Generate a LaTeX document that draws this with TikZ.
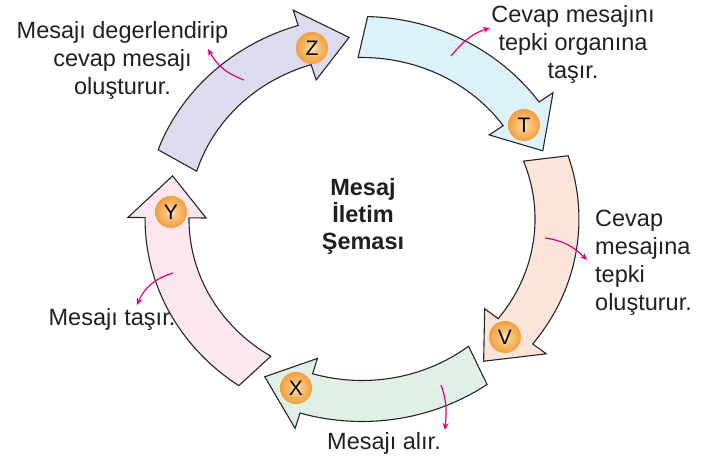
\documentclass[tikz,border=0pt]{standalone}
\usepackage{fontspec}
\setmainfont{Liberation Sans}
\usetikzlibrary{arrows.meta}
\definecolor{zfill}{HTML}{DDDCEE}
\definecolor{tfill}{HTML}{DDF1FA}
\definecolor{vfill}{HTML}{FCE4DA}
\definecolor{xfill}{HTML}{E0F0E4}
\definecolor{yfill}{HTML}{FCE6F0}
\definecolor{pinkline}{HTML}{E6007E}
\definecolor{textgray}{HTML}{231F20}
\definecolor{badgeA}{HTML}{FDEBC4}
\definecolor{badgeB}{HTML}{F9C67E}
\definecolor{badgeC}{HTML}{F1932C}
\definecolor{badgeD}{HTML}{E57E16}
\pgfdeclareradialshading{badgeshade}{\pgfpoint{0bp}{0bp}}{color(0bp)=(badgeA); color(8bp)=(badgeB); color(30bp)=(badgeC); color(50bp)=(badgeD)}
\def\arRo{202.5}
\def\arRi{161.5}
\def\arRh{218.5}
\def\arRhi{145.5}
\def\arRm{182}
\newcommand{\cyclearrow}[3]{%
  \pgfmathsetmacro{\arHB}{#2+13.3}%
  \pgfmathsetmacro{\arSO}{#1-1.4}%
  \pgfmathsetmacro{\arSI}{#1+1.4}%
  \draw[arrowbody,fill=#3] (\arSO:\arRo) -- plot[domain=\arSO:\arHB,samples=40] (\x:\arRo)
    -- (\arHB:\arRh) -- (#2:\arRm) -- (\arHB:\arRhi) -- (\arHB:\arRi)
    -- plot[domain=\arHB:\arSI,samples=40] (\x:\arRi) -- cycle;}
\tikzset{
  arrowbody/.style={draw=black!85, line width=1.1pt, line join=miter},
  badge/.style={circle, minimum size=32pt, inner sep=0pt, shading=badgeshade,
    font=\fontsize{21}{21}\selectfont, text=black},
  lbl/.style={font=\fontsize{23.5}{28.3}\selectfont, text=textgray, inner sep=0pt},
  pinkarrow/.style={draw=pinkline, line width=1.2pt, -{Stealth[length=7pt,width=6pt]}}
}
\begin{document}
\begin{tikzpicture}[x=1pt,y=1pt]
\fill[white] (0,0) rectangle (713,461);
\useasboundingbox (0,0) rectangle (713,461);
\begin{scope}[shift={(362,242)}, xscale=1.0714]
  \cyclearrow{161.4}{93.8}{zfill}
  \cyclearrow{89.9}{22.0}{tfill}
  \cyclearrow{19.6}{-51.4}{vfill}
  \cyclearrow{-53.4}{-119.9}{xfill}
  \cyclearrow{-123.2}{-193.7}{yfill}
\end{scope}
% badges
\node[badge] (bz) at (312,413) {Z};
\node[badge] (bt) at (524,336) {T};
\node[badge] (bv) at (505,124) {V};
\node[badge] (bx) at (296,73) {X};
\node[badge] (by) at (171,249) {Y};
% labels (base anchor = baseline of the last line)
\node[lbl, align=center, anchor=base] (tz) at (122.5,366) {Mesajı degerlendirip\\cevap mesajı\\oluşturur.};
\node[lbl, align=center, anchor=base] (tt) at (573,382) {Cevap mesajını\\tepki organına\\taşır.};
\node[lbl, align=left, anchor=base west] (tv) at (595,150) {Cevap\\mesajına\\tepki\\oluşturur.};
\node[lbl, anchor=base] (ty) at (112,135) {Mesajı taşır.};
\node[lbl, anchor=base] (tx) at (384,11) {Mesajı alır.};
\node[lbl, align=center, anchor=base, font=\fontsize{23.5}{27}\selectfont\bfseries] (tc) at (363,211) {Mesaj\\İletim\\Şeması};
% pink connectors
\coordinate (zs) at (244,381); \coordinate (ze) at (208,412);
\coordinate (ts) at (451,405); \coordinate (te) at (490,433);
\coordinate (vs) at (545,223); \coordinate (ve) at (587,201);
\coordinate (xs) at (441,76);  \coordinate (xe) at (445,31);
\coordinate (ys) at (173,188); \coordinate (ye) at (137,156);
\draw[pinkarrow] (zs) to[out=160,in=-61] (ze);
\draw[pinkarrow] (ts) to[out=50,in=197] (te);
\draw[pinkarrow] (vs) to[out=-8,in=135] (ve);
\draw[pinkarrow] (xs) to[out=-70,in=85] (xe);
\draw[pinkarrow] (ys) to[out=197,in=67] (ye);
\end{tikzpicture}
\end{document}
